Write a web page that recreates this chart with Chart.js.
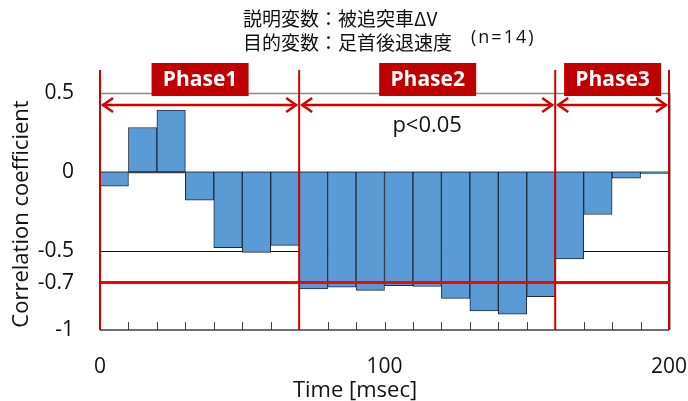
<!DOCTYPE html>
<html>
<head>
<meta charset="utf-8">
<script src="https://cdn.jsdelivr.net/npm/chart.js@4.4.1/dist/chart.umd.min.js"></script>
<style>
  html, body { margin: 0; padding: 0; background: #fff; overflow: hidden; }
  #wrap { width: 688px; height: 401px; position: relative; }
</style>
</head>
<body>
<div id="wrap"><canvas id="chart"></canvas></div>
<script>
// 10 msec bins (start time of each bin)
const timeBins = [0, 10, 20, 30, 40, 50, 60, 70, 80, 90, 100, 110, 120, 130, 140, 150, 160, 170, 180, 190];
const corrValues = [-0.09, 0.28, 0.39, -0.18, -0.48, -0.51, -0.465, -0.74, -0.73, -0.75,
                    -0.72, -0.725, -0.80, -0.88, -0.90, -0.79, -0.55, -0.27, -0.04, -0.01];
const yTicks = [0.5, 0, -0.5, -0.7, -1];
const xTicks = [0, 100, 200];
const phaseBounds = [0, 70, 160, 200];
const phaseNames = ['Phase1', 'Phase2', 'Phase3'];
const threshold = -0.7;
const titleLines = ['説明変数：被追突車ΔV', '目的変数：足首後退速度'];

const FONT = '"Open Sans", "Noto Sans", sans-serif';
const CJK = '"Noto Sans CJK JP", "Noto Sans", sans-serif';
const RED = '#d40000';

// everything drawn around the bars: guide lines, phases, titles
const decorations = {
  id: 'decorations',
  beforeDatasetsDraw(chart) {
    const { ctx, chartArea: a, scales: { y } } = chart;
    const hline = (v, color, w) => {
      const py = Math.round(y.getPixelForValue(v)) + 0.5;
      ctx.strokeStyle = color; ctx.lineWidth = w;
      ctx.beginPath(); ctx.moveTo(a.left, py); ctx.lineTo(a.right, py); ctx.stroke();
    };
    ctx.save();
    hline(0.5, '#8a8a8a', 1.5);
    hline(0, '#404040', 1.5);
    hline(-0.5, '#111', 1);
    // right frame
    ctx.strokeStyle = '#8a8a8a'; ctx.lineWidth = 1.5;
    ctx.beginPath();
    ctx.moveTo(a.right + 1, y.getPixelForValue(0.5));
    ctx.lineTo(a.right + 1, a.bottom);
    ctx.stroke();
    ctx.restore();
  },
  afterDatasetsDraw(chart) {
    const { ctx, chartArea: a, scales: { y, xt } } = chart;
    ctx.save();

    // x axis line and inward tick marks
    ctx.strokeStyle = '#404040'; ctx.lineWidth = 1.5;
    ctx.beginPath(); ctx.moveTo(a.left, a.bottom); ctx.lineTo(a.right, a.bottom); ctx.stroke();
    ctx.lineWidth = 1;
    timeBins.forEach(t => {
      const px = Math.round(xt.getPixelForValue(t)) + 0.5;
      ctx.beginPath(); ctx.moveTo(px, a.bottom); ctx.lineTo(px, a.bottom - 8); ctx.stroke();
    });

    // threshold line
    const ty = y.getPixelForValue(threshold);
    ctx.strokeStyle = '#ff0000'; ctx.lineWidth = 3;
    ctx.beginPath(); ctx.moveTo(a.left, ty); ctx.lineTo(a.right, ty); ctx.stroke();

    // phase boundaries
    ctx.strokeStyle = RED; ctx.lineWidth = 2;
    phaseBounds.forEach(t => {
      const px = xt.getPixelForValue(t);
      ctx.beginPath(); ctx.moveTo(px, a.top + 1); ctx.lineTo(px, a.bottom); ctx.stroke();
    });

    // arrows and labels
    const ay = a.top + 36;
    ctx.lineWidth = 2.5; ctx.lineJoin = 'miter';
    for (let i = 0; i < phaseNames.length; i++) {
      const x0 = xt.getPixelForValue(phaseBounds[i]) + 3;
      const x1 = xt.getPixelForValue(phaseBounds[i + 1]) - 3;
      ctx.strokeStyle = RED;
      ctx.beginPath(); ctx.moveTo(x0, ay); ctx.lineTo(x1, ay); ctx.stroke();
      ctx.beginPath(); ctx.moveTo(x0 + 10, ay - 7); ctx.lineTo(x0, ay); ctx.lineTo(x0 + 10, ay + 7); ctx.stroke();
      ctx.beginPath(); ctx.moveTo(x1 - 10, ay - 7); ctx.lineTo(x1, ay); ctx.lineTo(x1 - 10, ay + 7); ctx.stroke();

      const cx = (xt.getPixelForValue(phaseBounds[i]) + xt.getPixelForValue(phaseBounds[i + 1])) / 2;
      ctx.fillStyle = '#c00000';
      ctx.fillRect(cx - 48, a.top - 6, 97, 33);
      ctx.fillStyle = '#fff';
      ctx.font = 'bold 21px ' + FONT;
      ctx.textAlign = 'center'; ctx.textBaseline = 'middle';
      ctx.fillText(phaseNames[i], cx + 0.5, a.top + 11);
    }

    // significance note in phase 2
    ctx.fillStyle = '#111';
    ctx.font = '22px ' + FONT;
    ctx.textAlign = 'center'; ctx.textBaseline = 'middle';
    ctx.fillText('p<0.05', (xt.getPixelForValue(phaseBounds[1]) + xt.getPixelForValue(phaseBounds[2])) / 2, a.top + 57);

    // title
    ctx.font = '19px ' + CJK;
    ctx.textAlign = 'left';
    ctx.fillText(titleLines[0], 243, 19);
    ctx.fillText(titleLines[1], 243, 43);
    ctx.font = '18px ' + FONT;
    ctx.letterSpacing = '2px';
    ctx.fillText('(n=14)', 471, 38);
    ctx.letterSpacing = '0px';

    // axis titles
    ctx.font = '22px ' + FONT;
    ctx.textAlign = 'center';
    ctx.fillText('Time [msec]', 355, 391);
    ctx.translate(22, 214);
    ctx.rotate(-Math.PI / 2);
    ctx.fillText('Correlation coefficient', 0, 0);

    ctx.restore();
  }
};

new Chart(document.getElementById('chart'), {
  type: 'bar',
  data: {
    labels: timeBins,
    datasets: [{
      data: corrValues,
      backgroundColor: '#5b9bd5',
      borderColor: '#1f2b38',
      borderWidth: 1,
      borderSkipped: false,
      barPercentage: 1,
      categoryPercentage: 1
    }]
  },
  options: {
    responsive: true,
    maintainAspectRatio: false,
    animation: false,
    layout: { padding: { top: 69, right: 19, left: 0, bottom: 0 } },
    plugins: { legend: { display: false }, tooltip: { enabled: false } },
    scales: {
      x: { display: false },
      xt: {
        type: 'linear', position: 'bottom', min: 0, max: 200, offset: false,
        grid: { display: false, drawTicks: false, offset: false },
        border: { display: false },
        afterBuildTicks: s => { s.ticks = xTicks.map(v => ({ value: v })); },
        afterFit: s => { s.height = 71; s.paddingLeft = 0; s.paddingRight = 0; },
        ticks: { color: '#111', padding: 24, font: { family: FONT, size: 21 }, maxRotation: 0 }
      },
      y: {
        min: -1, max: 0.65,
        grid: { display: false, drawTicks: false },
        border: { display: false },
        afterBuildTicks: s => { s.ticks = yTicks.map(v => ({ value: v })); },
        afterFit: s => { s.width = 100; s.paddingTop = 0; s.paddingBottom = 0; },
        ticks: { color: '#111', padding: 26, font: { family: FONT, size: 21 }, callback: v => String(v) }
      }
    }
  },
  plugins: [decorations]
});
</script>
</body>
</html>
